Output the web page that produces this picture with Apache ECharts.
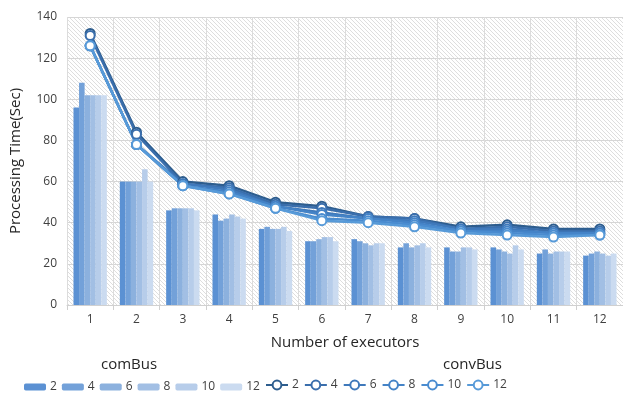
<!DOCTYPE html>
<html>
<head>
<meta charset="utf-8">
<script src="https://cdn.jsdelivr.net/npm/echarts@6/dist/echarts.min.js"></script>
<style>
  html, body { margin: 0; padding: 0; background: #fff; }
  #chart { width: 623px; height: 396px; }
</style>
</head>
<body>
<div id="chart"></div>
<script>
// Executor counts on the x axis
const executors = ['1', '2', '3', '4', '5', '6', '7', '8', '9', '10', '11', '12'];
// Series labels (batch sizes) shared by both groups
const sizes = ['2', '4', '6', '8', '10', '12'];

// comBus processing times (bars)
const comBus2  = [96, 60, 46, 44, 37, 31, 32, 28, 28, 28, 25, 24];
const comBus4  = [108, 60, 47, 41, 38, 31, 31, 30, 26, 27, 27, 25];
const comBus6  = [102, 60, 47, 42, 37, 32, 30, 28, 26, 26, 25, 26];
const comBus8  = [102, 60, 47, 44, 37, 33, 29, 29, 28, 25, 26, 25];
const comBus10 = [102, 66, 47, 43, 38, 33, 30, 30, 28, 29, 26, 24];
const comBus12 = [102, 60, 46, 42, 36, 31, 30, 28, 27, 27, 26, 25];

// convBus processing times (lines)
const convBus2  = [132, 84, 60, 58, 50, 48, 43, 42, 38, 39, 37, 37];
const convBus4  = [131, 83, 59, 57, 49, 47, 43, 42, 37, 38, 36, 36];
const convBus6  = [126, 78, 59, 56, 48, 45, 42, 41, 37, 37, 35, 35];
const convBus8  = [126, 78, 58, 55, 48, 44, 42, 40, 36, 36, 35, 35];
const convBus10 = [126, 78, 58, 54, 47, 42, 41, 39, 36, 35, 34, 34];
const convBus12 = [126, 78, 58, 54, 47, 41, 40, 38, 35, 34, 33, 34];

const comBusData = [comBus2, comBus4, comBus6, comBus8, comBus10, comBus12];
const convBusData = [convBus2, convBus4, convBus6, convBus8, convBus10, convBus12];

const barColors = ['#5b91d3', '#73a1d9', '#8cb1de', '#a2bfe4', '#b7cdea', '#cbdbf0'];
const lineColors = ['#2d5d8e', '#3a6eac', '#3f79bb', '#4483c7', '#4a8cd0', '#579ad8'];

// Light diagonal hatch tile for the plot background
function hatchTile() {
  const n = 4;
  const c = document.createElement('canvas');
  c.width = n; c.height = n;
  const ctx = c.getContext('2d');
  const img = ctx.createImageData(n, n);
  for (let y = 0; y < n; y++) {
    for (let x = 0; x < n; x++) {
      const i = (y * n + x) * 4;
      const v = x === y ? 222 : 255;
      img.data[i] = v; img.data[i + 1] = v; img.data[i + 2] = v; img.data[i + 3] = 255;
    }
  }
  ctx.putImageData(img, 0, 0);
  return c;
}

const font = '"Open Sans", "Noto Sans", sans-serif';
const series = [];
sizes.forEach((s, k) => {
  series.push({
    name: 'comBus ' + s,
    type: 'bar',
    data: comBusData[k],
    barGap: '0%',
    barCategoryGap: '28%',
    itemStyle: { color: barColors[k] },
    z: 2
  });
});
sizes.forEach((s, k) => {
  series.push({
    name: 'convBus ' + s,
    type: 'line',
    data: convBusData[k],
    symbol: 'emptyCircle',
    symbolSize: 9,
    lineStyle: { width: 2.5, color: lineColors[k] },
    itemStyle: { color: lineColors[k], borderWidth: 2.2, borderColor: lineColors[k] },
    z: 5
  });
});

const chart = echarts.init(document.getElementById('chart'), null, { renderer: 'canvas' });
chart.setOption({
  backgroundColor: '#ffffff',
  animation: false,
  textStyle: { fontFamily: font },
  grid: {
    left: 64, right: 0, top: 17, bottom: 91,
    show: true,
    borderWidth: 0,
    backgroundColor: { image: hatchTile(), repeat: 'repeat' }
  },
  xAxis: {
    type: 'category',
    data: executors,
    name: 'Number of executors',
    nameLocation: 'middle',
    nameGap: 30,
    nameTextStyle: { fontSize: 15, color: '#262626', fontFamily: font },
    axisLine: { show: true, lineStyle: { color: '#d0d0d0' } },
    axisTick: { show: true, length: 5, lineStyle: { color: '#d0d0d0' } },
    axisLabel: { fontSize: 12, color: '#404040', margin: 9 },
    splitLine: { show: true, lineStyle: { color: '#dcdcdc' } }
  },
  yAxis: {
    type: 'value',
    min: 0, max: 140, interval: 20,
    name: 'Processing Time(Sec)',
    nameLocation: 'middle',
    nameGap: 44,
    nameTextStyle: { fontSize: 15, color: '#262626', fontFamily: font },
    axisLine: { show: false },
    axisTick: { show: false },
    axisLabel: { fontSize: 12, color: '#404040', margin: 10 },
    splitLine: { show: true, lineStyle: { color: '#d6d6d6' } }
  },
  legend: [
    {
      data: sizes.map(s => 'comBus ' + s),
      left: 24, top: 381, padding: 0,
      itemWidth: 22, itemHeight: 7, itemGap: 5,
      formatter: n => n.split(' ')[1],
      textStyle: { fontSize: 12, color: '#404040', padding: [0, 0, 0, -1] }
    },
    {
      data: sizes.map(s => 'convBus ' + s),
      left: 265, top: 379, padding: 0,
      itemWidth: 22, itemHeight: 11, itemGap: 5,
      formatter: n => n.split(' ')[1],
      textStyle: { fontSize: 12, color: '#404040', padding: [0, 0, 0, -1] }
    }
  ],
  graphic: [
    { type: 'text', left: 101, top: 357, style: { text: 'comBus', font: '15px ' + font, fill: '#262626' } },
    { type: 'text', left: 443, top: 357, style: { text: 'convBus', font: '15px ' + font, fill: '#262626' } }
  ],
  series: series
});
</script>
</body>
</html>
